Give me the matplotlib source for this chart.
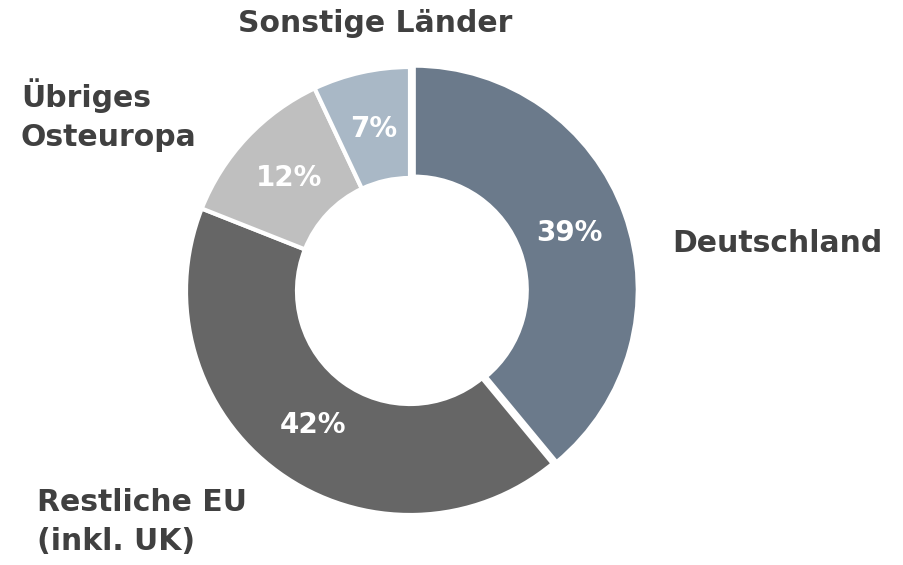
import matplotlib.pyplot as plt

# Anteile nach Region
labels = ["Deutschland", "Restliche EU\n(inkl. UK)", "Übriges\nOsteuropa", "Sonstige Länder"]
shares = [39, 42, 12, 7]
colors = ["#6b7a8b", "#666666", "#bfbfbf", "#a9b8c6"]

plt.rcParams['font.family'] = ['DejaVu Sans']
txt_col = "#404040"
fs = 21.5

fig = plt.figure(figsize=(9.04, 5.65), dpi=100)
ax = fig.add_axes([0, 0, 1, 1])

wedges, _, pcts = ax.pie(
    shares, colors=colors, startangle=90, counterclock=False,
    center=(410, 274), radius=224, explode=[4, 0, 0, 0],
    autopct=lambda p: f"{p:.0f}%", pctdistance=0.74,
    wedgeprops=dict(width=111, edgecolor='white', linewidth=3),
    textprops=dict(color='white', fontsize=20, fontweight='bold'))

# pie() setzt eigene Grenzen -> danach in Pixelkoordinaten
ax.set_xlim(0, 904)
ax.set_ylim(0, 565)
ax.set_aspect('equal')
ax.axis('off')

# Beschriftungen außen
ax.text(777, 322, labels[0], ha='center', va='center', fontsize=fs,
        fontweight='bold', color=txt_col)
ax.text(37, 43, labels[1], ha='left', va='center', fontsize=fs,
        fontweight='bold', color=txt_col, linespacing=1.42)
ax.text(21, 450, labels[2], ha='left', va='center', fontsize=fs,
        fontweight='bold', color=txt_col, linespacing=1.42)
ax.text(375, 542, labels[3], ha='center', va='center', fontsize=fs,
        fontweight='bold', color=txt_col)

fig.savefig("out.png", dpi=100)
